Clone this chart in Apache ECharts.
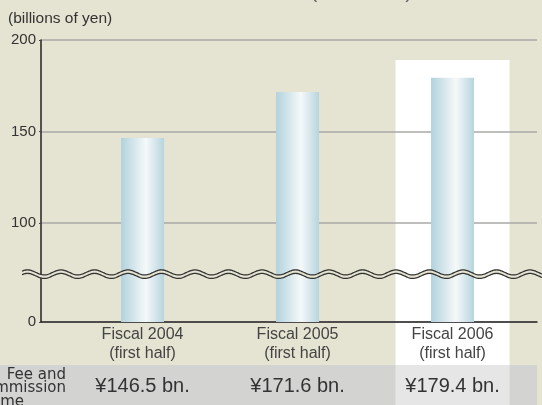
<!DOCTYPE html>
<html>
<head>
<meta charset="utf-8">
<script src="https://cdn.jsdelivr.net/npm/echarts@6/dist/echarts.min.js"></script>
<style>
html,body{margin:0;padding:0;background:#e5e3d1;}
#c{width:542px;height:405px;}
</style>
</head>
<body>
<div id="c"></div>
<script>
const categories = ['Fiscal 2004', 'Fiscal 2005', 'Fiscal 2006'];
const subLabels = ['(first half)', '(first half)', '(first half)'];
const income = [146.5, 171.6, 179.4];
const yTicks = [0, 100, 150, 200];
const yBreak = { start: 25, end: 71 };
const highlightIndex = 2;

const FONT = '"Liberation Sans", Arial, sans-serif';
const BG = '#e5e3d1';

const chart = echarts.init(document.getElementById('c'), null, { renderer: 'canvas' });

const option = {
  backgroundColor: BG,
  animation: false,
  grid: { left: 41, right: 5, top: 40, bottom: 83, containLabel: false },
  xAxis: [{
    type: 'value',
    min: -0.655,
    max: 2.545,
    axisLine: { show: true, onZero: false, lineStyle: { color: '#2a2a2a', width: 1.5 } },
    axisTick: { show: false },
    splitLine: { show: false },
    axisLabel: {
      customValues: categories.map((_, i) => i),
      formatter: v => categories[Math.round(v)] + '\n' + subLabels[Math.round(v)],
      fontFamily: FONT, fontSize: 16, color: '#444', lineHeight: 19, margin: 3
    }
  }, {
    type: 'value',
    min: -0.655,
    max: 2.545,
    position: 'bottom',
    axisLine: { show: false, onZero: false },
    axisTick: { show: false },
    splitLine: { show: false },
    axisLabel: {
      customValues: categories.map((_, i) => i),
      formatter: v => '¥' + income[Math.round(v)].toFixed(1) + ' bn.',
      fontFamily: FONT, fontSize: 20, color: '#333', margin: 54
    }
  }],
  yAxis: {
    type: 'value',
    min: 0, max: 200, interval: 50,
    breaks: [{ start: yBreak.start, end: yBreak.end, gap: 0 }],
    breakArea: { show: false, expandOnClick: false },
    axisLine: { show: true, onZero: false, lineStyle: { color: '#222', width: 1.5 } },
    axisTick: { show: true, length: 2, customValues: yTicks, lineStyle: { color: '#444' } },
    splitLine: { show: true, lineStyle: { color: '#a9a9a6', width: 1.5 } },
    axisLabel: { customValues: yTicks, fontFamily: FONT, fontSize: 15, color: '#333', margin: 5 }
  },
  series: [{
    type: 'bar',
    xAxisIndex: 0,
    barWidth: 43,
    data: income.map((v, i) => [i, v]),
    itemStyle: {
      color: new echarts.graphic.LinearGradient(0, 0, 1, 0, [
        { offset: 0, color: '#b2d2dd' },
        { offset: 0.58, color: '#f5f9f9' },
        { offset: 1, color: '#b7d4de' }
      ])
    },
    z: 2
  }]
};
chart.setOption(option);

function buildGraphics() {
  const cx = chart.convertToPixel({ xAxisIndex: 0 }, highlightIndex);
  const bandPx = chart.convertToPixel({ xAxisIndex: 0 }, 1) - chart.convertToPixel({ xAxisIndex: 0 }, 0);
  const halfW = bandPx * 0.368;
  const yb = chart.convertToPixel({ yAxisIndex: 0 }, yBreak.start);
  const gridRight = 537;
  const els = [];

  // title (cut at top)
  els.push({ type: 'text', left: 8, top: -20, z: 5, style: { text: 'Fee and Commission Income', font: '22px ' + FONT, fill: '#5b79c0' } });
  els.push({ type: 'text', left: 310, top: -20, z: 5, style: { text: '(First Half)', font: '22px ' + FONT, fill: '#666' } });
  // unit
  els.push({ type: 'text', left: 8, top: 11, z: 5, style: { text: '(billions of yen)', font: '15.5px ' + FONT, fill: '#333' } });

  // highlight column
  els.push({ type: 'rect', z: -10, silent: true, shape: { x: cx - halfW, y: 60, width: halfW * 2, height: 305 }, style: { fill: '#ffffff' } });
  // table row
  els.push({ type: 'rect', z: -10, silent: true, shape: { x: 0, y: 365, width: gridRight, height: 40 }, style: { fill: '#d3d3d2' } });
  els.push({ type: 'rect', z: -9, silent: true, shape: { x: cx - halfW, y: 365, width: halfW * 2, height: 40 }, style: { fill: '#e6e6e6' } });
  // row header (cut at left)
  els.push({ type: 'text', z: 5, style: { text: 'Fee and', x: 66, y: 375, align: 'right', verticalAlign: 'middle', font: '15px "DejaVu Sans", sans-serif', fill: '#333' } });
  els.push({ type: 'text', z: 5, style: { text: 'Commission', x: 66, y: 388.5, align: 'right', verticalAlign: 'middle', font: '15px "DejaVu Sans", sans-serif', fill: '#333' } });
  els.push({ type: 'text', z: 5, style: { text: 'Income', x: 24, y: 402, align: 'right', verticalAlign: 'middle', font: '15px "DejaVu Sans", sans-serif', fill: '#333' } });

  // break waves
  const x0 = 22, x1 = 542, period = 33.5, amp = 2.5;
  const c1 = yb - 3.8, c2 = yb - 0.3;
  const p1 = [], p2 = [];
  for (let x = x0; x <= x1; x += 1) {
    const s = Math.sin((x - 61) / period * 2 * Math.PI + Math.PI / 2);
    p1.push([x, c1 - amp * s]);
    p2.push([x, c2 - amp * s]);
  }
  els.push({ type: 'polygon', z: 20, silent: true, shape: { points: p1.concat(p2.slice().reverse()) }, style: { fill: BG, stroke: null } });
  els.push({ type: 'polyline', z: 21, silent: true, shape: { points: p1 }, style: { stroke: '#333', lineWidth: 1.3, fill: null } });
  els.push({ type: 'polyline', z: 21, silent: true, shape: { points: p2 }, style: { stroke: '#333', lineWidth: 1.3, fill: null } });

  chart.setOption({ graphic: { elements: els } });
}
buildGraphics();
</script>
</body>
</html>
